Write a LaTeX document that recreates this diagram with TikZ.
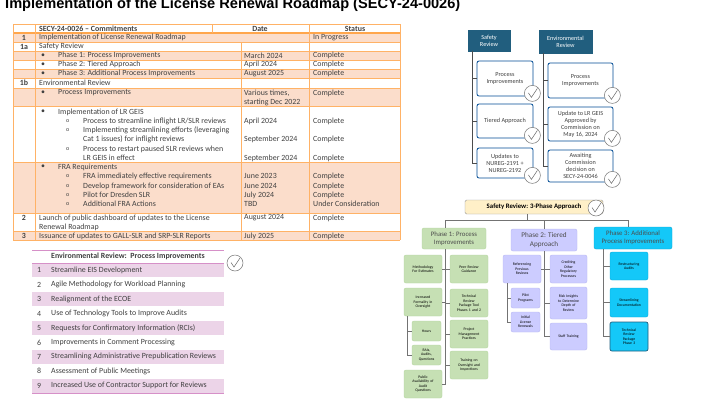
\documentclass[tikz,border=0pt]{standalone}
\usepackage{fontspec}
\setmainfont{Carlito}
\newfontfamily\arialf{Liberation Sans}
\begin{document}
\begin{tikzpicture}[x=1pt,y=-1pt,
  every node/.style={inner sep=0pt},
  tt/.style={anchor=west,font=\fontsize{7.9}{8.5}\selectfont,text=black!75},
  pt/.style={anchor=west,font=\fontsize{7.9}{8.5}\selectfont,text=black!75},
  orl/.style={draw=orange!60!white,line width=0.6pt},
  conn/.style={draw=black!55,line width=0.5pt},
  tbox/.style={draw=black!60!blue!70!cyan,fill=white,rounded corners=2pt,line width=0.8pt,align=center,font=\fontsize{6.2}{7}\selectfont,text=black!75},
  hbox/.style={fill=hdr,draw=hdr,align=center,font=\fontsize{6.2}{7}\selectfont,text=white},
  gbox/.style={fill=gfill,draw=gline,rounded corners=2pt,align=center,font=\fontsize{3.8}{4.5}\selectfont,text width=34pt,minimum width=38pt},
  vbox/.style={fill=vfill,draw=vline,rounded corners=2pt,align=center,font=\fontsize{3.8}{4.5}\selectfont,text width=34pt,minimum width=38pt},
  cbox/.style={fill=cfill,draw=cline,rounded corners=2pt,align=center,font=\fontsize{3.8}{4.5}\selectfont,text width=34pt,minimum width=38pt},
  chk/.pic={\draw[black!55,fill=white,line width=0.5pt] (0,0) circle (8);
            \draw[black!60,line width=0.5pt] (-4,-0.5) -- (-1,4) -- (5,-5);}
]
\definecolor{osh}{HTML}{FBDDCB}
\definecolor{psh}{HTML}{ECD4E8}
\definecolor{pln}{HTML}{D690C8}
\definecolor{hdr}{HTML}{215E7E}
\definecolor{gfill}{HTML}{C6E0B4}
\definecolor{gline}{HTML}{B5D6A0}
\definecolor{vfill}{HTML}{CCCCFF}
\definecolor{vline}{HTML}{B8B8F2}
\definecolor{cfill}{HTML}{14C8F8}
\definecolor{cline}{HTML}{0AA8D8}
\definecolor{yfill}{HTML}{FFF0C8}
\useasboundingbox (0,0) rectangle (728,400);
\clip (0,0) rectangle (728,400);
\fill[white] (0,0) rectangle (728,400);

% title
\node[anchor=base west,font=\arialf\bfseries\fontsize{14.6}{16}\selectfont] (title) at (5,8.5) {Implementation of the License Renewal Roadmap (SECY-24-0026)};

% ---------- orange table ----------
\foreach \a/\b in {33/42,51/60,69/78,88/106,162/213,231/240}
  \fill[osh] (13,\a) rectangle (400,\b);
\foreach \y in {24,42,51,60,69,78,88,106,162,213,231,240}
  \draw[orl] (13,\y) -- (400,\y);
\draw[orange!70!white,line width=1.1pt] (13,33) -- (400,33);
\foreach \x in {13,35,309,400} \draw[orl] (\x,24) -- (\x,240);
\draw[orl] (241,42) -- (241,240);
\draw[orl] (212,24) -- (212,33);
\node[tt,font=\bfseries\fontsize{7.9}{8.5}\selectfont] (h1) at (39,28.5) {SECY-24-0026 – Commitments};
\node[tt,anchor=center,font=\bfseries\fontsize{7.9}{8.5}\selectfont] (h2) at (260,28.5) {Date};
\node[tt,anchor=center,font=\bfseries\fontsize{7.9}{8.5}\selectfont] (h3) at (355,28.5) {Status};
\foreach \n/\y in {1/37.5,1a/46.5,1b/83,2/218,3/236}
  \node[tt,anchor=center,font=\bfseries\fontsize{7.9}{8.5}\selectfont] at (24,\y) {\n};
\node[tt] at (39,37.5) {Implementation of License Renewal Roadmap};
\node[tt] at (313,37.5) {In Progress};
\node[tt] at (39,46.5) {Safety Review};
\node[tt] at (39,83) {Environmental Review};
\foreach \y/\t in {55.5/{Phase 1: Process Improvements},64.5/{Phase 2: Tiered Approach},73.5/{Phase 3: Additional Process Improvements},93/{Process Improvements},112/{Implementation of LR GEIS},167/{FRA Requirements}}
  {\node[tt] at (41,\y) {•}; \node[tt] at (58,\y) {\t};}
\foreach \y/\t in {121/{Process to streamline inflight LR/SLR reviews},130/{Implementing streamlining efforts (leveraging},149/{Process to restart paused SLR reviews when},176/{FRA immediately effective requirements},186/{Develop framework for consideration of EAs},195/{Pilot for Dresden SLR},204/{Additional FRA Actions}}
  {\node[tt,font=\fontsize{6}{7}\selectfont] at (66,\y) {o}; \node[tt] at (83,\y) {\t};}
\node[tt] at (83,139) {Cat 1 issues) for inflight reviews};
\node[tt] at (83,158) {LR GEIS in effect};
\node[tt] at (39,218) {Launch of public dashboard of updates to the License};
\node[tt] at (39,227) {Renewal Roadmap};
\node[tt] at (39,236) {Issuance of updates to GALL-SLR and SRP-SLR Reports};
\foreach \y/\d/\s in {55.5/{March 2024}/{Complete},64.5/{April 2024}/{Complete},73.5/{August 2025}/{Complete},93/{Various times,}/{Complete},121/{April 2024}/{Complete},139/{September 2024}/{Complete},158/{September 2024}/{Complete},176/{June 2023}/{Complete},186/{June 2024}/{Complete},195/{July 2024}/{Complete},204/{TBD}/{Under Consideration},218/{August 2024}/{Complete},236/{July 2025}/{Complete}}
  {\node[tt] at (244,\y) {\d}; \node[tt] at (313,\y) {\s};}
\node[tt] at (244,102) {starting Dec 2022};

% ---------- pink table ----------
\foreach \k in {0,2,4,6,8}
  \fill[psh] (32,{263+14.44*\k}) rectangle (224,{263+14.44*(\k+1)});
\draw[pln,line width=0.6pt] (32,250) -- (224,250);
\draw[pln,line width=0.6pt] (32,263) -- (224,263);
\draw[pln,line width=0.6pt] (32,393) -- (224,393);
\node[pt,font=\bfseries\fontsize{7.9}{8.5}\selectfont] (ph) at (51,256.5) {Environmental Review:\ \ Process Improvements};
\foreach \k/\t in {1/{Streamline EIS Development},2/{Agile Methodology for Workload Planning},3/{Realignment of the ECOE},4/{Use of Technology Tools to Improve Audits},5/{Requests for Confirmatory Information (RCIs)},6/{Improvements in Comment Processing},7/{Streamlining Administrative Prepublication Reviews},8/{Assessment of Public Meetings},9/{Increased Use of Contractor Support for Reviews}}
  {\node[pt] at (37,{263+14.44*\k-7.2}) {\k}; \node[pt] at (51,{263+14.44*\k-7.2}) {\t};}
\pic at (235,263) {chk};

% ---------- safety / environmental tree ----------
\node[hbox,minimum width=42pt,minimum height=21pt] (sr) at (489,40.5) {Safety\\Review};
\node[hbox,minimum width=53pt,minimum height=23pt] (er) at (565.5,41.5) {Environmental\\Review};
\coordinate (sl) at (472,0);
\coordinate (el) at (543,0);
\node[tbox,minimum width=56pt,minimum height=35pt] (s1) at (505,78.5) {Process\\Improvements};
\node[tbox,minimum width=56pt,minimum height=34pt] (s2) at (505,121) {Tiered Approach};
\node[tbox,minimum width=56pt,minimum height=30pt] (s3) at (505,163) {Updates to\\NUREG-2191 +\\NUREG-2192};
\node[tbox,minimum width=65pt,minimum height=35pt] (e1) at (580.5,80.5) {Process\\Improvements};
\node[tbox,minimum width=65pt,minimum height=34pt] (e2) at (580.5,124) {Update to LR GEIS\\Approved by\\Commission on\\May 16, 2024};
\node[tbox,minimum width=65pt,minimum height=32pt] (e3) at (580.5,166) {Awaiting\\Commission\\decision on\\SECY-24-0046};
\draw[black!70,line width=0.7pt] (sr.south -| sl) -- (s3.west -| sl) -- (s3.west);
\draw[black!70,line width=0.7pt] (s1.west -| sl) -- (s1.west) (s2.west -| sl) -- (s2.west);
\draw[black!70,line width=0.7pt] (er.south -| el) -- (e3.west -| el) -- (e3.west);
\draw[black!70,line width=0.7pt] (e1.west -| el) -- (e1.west) (e2.west -| el) -- (e2.west);
\foreach \n in {s1,s2,s3,e1,e2,e3} \pic at ([xshift=-1pt,yshift=3pt]\n.south east) {chk};

% ---------- 3-phase ----------
\node[fill=yfill,draw=black!40,rounded corners=1.5pt,minimum width=138pt,minimum height=14pt,font=\bfseries\fontsize{6.8}{7.5}\selectfont] (sp) at (534,207) {Safety Review: 3-Phase Approach\hspace{10pt}};
\pic at (596,208) {chk};
\node[fill=gfill,draw=gline,rounded corners=2pt,minimum width=64pt,minimum height=21pt,align=center,font=\fontsize{6.8}{7.8}\selectfont,text=black!70] (p1) at (454,238.5) {Phase 1: Process\\Improvements};
\node[fill=vfill,draw=vline,rounded corners=2pt,minimum width=66pt,minimum height=22pt,align=center,font=\fontsize{7.2}{8.2}\selectfont,text=black!70] (p2) at (544,240) {Phase 2: Tiered\\Approach};
\node[fill=cfill,draw=cline,rounded corners=2pt,minimum width=78pt,minimum height=22pt,align=center,font=\fontsize{6.8}{7.8}\selectfont,text=black!70] (p3) at (633,238) {Phase 3: Additional\\Process Improvements};
\coordinate (t1) at (527,220);
\coordinate (c1) at (445,0);
\coordinate (c2) at (544,0);
\coordinate (c3) at (628,0);
\draw[conn] (sp.south -| t1) -- (t1);
\draw[conn] (p1.north -| c1) -- (t1 -| c1) -- (t1 -| c3) -- (p3.north -| c3);
\draw[conn] (t1 -| c2) -- (p2.north -| c2);

% phase 1 children
\node[gbox,minimum height=28pt] (m1) at (423,269) {Methodology\\For Estimates};
\node[gbox,minimum height=28pt] (m2) at (423,302) {Increased\\Formality in\\Oversight};
\node[gbox,minimum height=28pt] (m3) at (423,384) {Public\\Availability of\\Audit\\Questions};
\node[gbox,text width=26pt,minimum width=29pt,minimum height=20pt] (m4) at (426.5,331) {Hours};
\node[gbox,text width=26pt,minimum width=29pt,minimum height=20pt] (m5) at (426.5,355) {RAIs,\\Audits,\\Questions};
\node[gbox,minimum height=28pt] (r1) at (469,269) {Peer Review\\Guidance};
\node[gbox,minimum height=28pt] (r2) at (469,303) {Technical\\Review\\Package Tool\\Phases 1 and 2};
\node[gbox,minimum height=28pt] (r3) at (469,334) {Project\\Management\\Practices};
\node[gbox,minimum height=28pt] (r4) at (469,365) {Training on\\Oversight and\\Inspections};
\coordinate (c1b) at (407,0);
\draw[conn] (p1.south -| c1) -- (m3.east -| c1) -- (m3.east);
\foreach \n in {m1,m2} \draw[conn] (\n.east) -- (\n.east -| c1);
\foreach \n in {r1,r2,r3,r4} \draw[conn] (\n.west) -- (\n.west -| c1);
\draw[conn] (m2.south -| c1b) -- (m5.west -| c1b) -- (m5.west);
\draw[conn] (m4.west -| c1b) -- (m4.west);

% phase 2 children
\node[vbox,minimum height=28pt] (q1) at (522,269) {Referencing\\Previous\\Reviews};
\node[vbox,text width=26pt,minimum width=29pt,minimum height=20pt] (q2) at (525.5,298) {Pilot\\Programs};
\node[vbox,text width=26pt,minimum width=29pt,minimum height=20pt] (q3) at (525.5,322) {Initial\\License\\Renewals};
\node[vbox,text width=33pt,minimum width=37pt,minimum height=28pt] (w1) at (568.5,269) {Crediting\\Other\\Regulatory\\Processes};
\node[vbox,text width=33pt,minimum width=37pt,minimum height=32pt] (w2) at (568.5,303) {Risk Insights\\to Determine\\Depth of\\Review};
\node[vbox,text width=33pt,minimum width=37pt,minimum height=27pt] (w3) at (568.5,336.5) {Staff Training};
\coordinate (c2b) at (507,0);
\draw[conn] (p2.south -| c2) -- (w3.west -| c2) -- (w3.west);
\draw[conn] (q1.east) -- (q1.east -| c2);
\foreach \n in {w1,w2} \draw[conn] (\n.west) -- (\n.west -| c2);
\draw[conn] (q1.south -| c2b) -- (q3.west -| c2b) -- (q3.west);
\draw[conn] (q2.west -| c2b) -- (q2.west);

% phase 3 children
\coordinate (c3b) at (603,0);
\node[cbox,minimum height=28pt] (k1) at (629,266) {Restructuring\\Audits};
\node[cbox,minimum height=29pt] (k2) at (629,302.5) {Streamlining\\Documentation};
\node[cbox,draw=hdr,line width=0.7pt,minimum height=29pt] (k3) at (629,336.5) {Technical\\Review\\Package\\Phase 3};
\draw[conn] (p3.south -| c3b) -- (k3.west -| c3b) -- (k3.west);
\foreach \n in {k1,k2} \draw[conn] (\n.west) -- (\n.west -| c3b);
\end{tikzpicture}
\end{document}
